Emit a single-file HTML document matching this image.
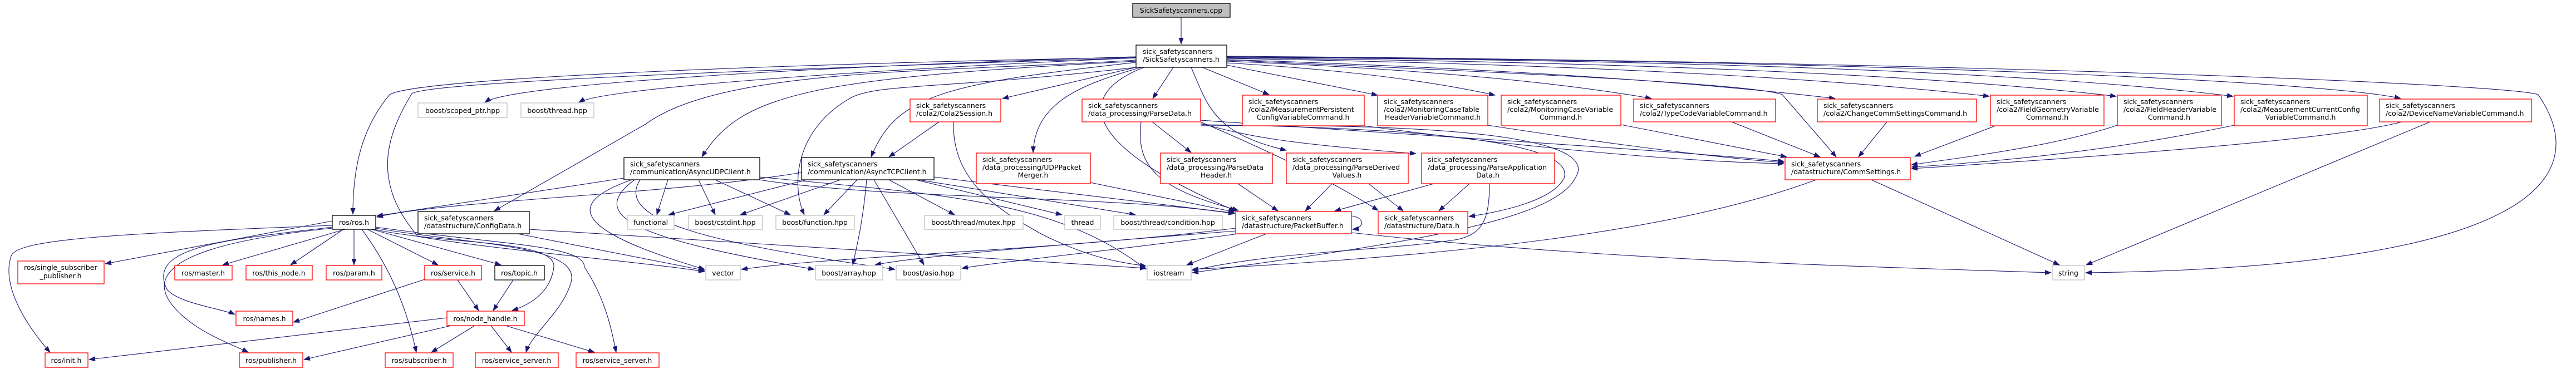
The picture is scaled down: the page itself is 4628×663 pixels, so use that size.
<!DOCTYPE html>
<html><head><meta charset="utf-8"><style>
html,body{margin:0;padding:0;background:#fff;}
svg{display:block;}
text{font-family:"DejaVu Sans","Liberation Sans",sans-serif;font-size:12.5px;fill:#000;}
.e{fill:none;stroke:#191970;stroke-width:1.1;marker-end:url(#a);}
.b{fill:#fff;stroke:#000;stroke-width:1.3;}
.r{fill:#fff;stroke:#ff0000;stroke-width:1.3;}
.g{fill:#fff;stroke:#bfbfbf;stroke-width:1.3;}
.c{text-anchor:middle;}
</style></head><body>
<svg width="4628" height="663" viewBox="0 0 4628 663" xmlns="http://www.w3.org/2000/svg">
<defs><marker id="a" markerUnits="userSpaceOnUse" markerWidth="12" markerHeight="9" refX="11" refY="4.5" orient="auto"><path d="M0,0 L12,4.5 L0,9 z" fill="#191970"/></marker></defs>

<path class="e" d="M2122,31 L2122,79"/>
<path class="e" d="M2041,103 C1400,115 750,140 700,170 C650,230 634,300 634,385"/>
<path class="e" d="M2041,104 C1200,130 770,150 740,168 C690,250 670,330 751,425 C900,450 1150,470 1266,488"/>
<path class="e" d="M2041,102 C1500,118 920,150 871,184"/>
<path class="e" d="M2041,104 C1500,128 1080,160 1040,184"/>
<path class="e" d="M2041,108 C1700,130 1300,120 1160,223 L888,379"/>
<path class="e" d="M2041,110 C1450,140 1330,170 1261,282"/>
<path class="e" d="M2041,112 C1700,150 1610,170 1565,282"/>
<path class="e" d="M2041,121 C1700,160 1580,150 1530,175 C1430,230 1420,330 1445,386"/>
<path class="e" d="M2041,121 L1801,177"/>
<path class="e" d="M2050,121 C1950,150 1860,180 1856,274"/>
<path class="e" d="M2108,121 L2071,177"/>
<path class="e" d="M2055,121 C1930,170 1940,260 2220,379"/>
<path class="e" d="M2140,121 C2170,190 2180,240 2311,270"/>
<path class="e" d="M2204,108 C2700,130 3150,150 3202,170 L3299,282"/>
<path class="e" d="M2160,121 L2280,170"/>
<path class="e" d="M2204,117 L2475,171"/>
<path class="e" d="M2204,113 Q2500,130 2686,171"/>
<path class="e" d="M2204,110 Q2700,130 2967,177"/>
<path class="e" d="M2204,107 Q2900,130 3297,177"/>
<path class="e" d="M2204,105 Q3100,120 3574,173"/>
<path class="e" d="M2204,104 Q3300,115 3802,173"/>
<path class="e" d="M2204,103 Q3500,110 4012,173"/>
<path class="e" d="M2204,102 C3500,110 4200,150 4313,177"/>
<path class="e" d="M2204,101 C3500,110 4500,150 4560,170 C4650,300 4600,480 3747,490"/>

<path class="e" d="M2157,222 C2230,240 2270,255 2544,276"/>
<path class="e" d="M2070,219 L2140,274"/>
<path class="e" d="M2050,219 C2040,300 2080,340 2225,378"/>
<path class="e" d="M2157,219 C2300,280 2400,330 2476,378"/>
<path class="e" d="M2157,216 C2500,240 3000,270 3205,290"/>
<path class="e" d="M2157,226 C2700,220 2870,260 2830,320 C2790,400 2500,440 2142,490"/>
<path class="e" d="M2157,224 C2600,230 2830,260 2810,320 C2790,360 2700,380 2639,389"/>

<path class="e" d="M1687,219 L1597,282"/>
<path class="e" d="M1713,219 C1710,330 1800,380 1870,420 C1950,460 2000,470 2059,478"/>
<path class="e" d="M1959,328 L2218,381"/>
<path class="e" d="M2224,330 L2296,379"/>
<path class="e" d="M2393,330 L2345,379"/>
<path class="e" d="M2459,330 L2521,379"/>
<path class="e" d="M2576,330 L2398,379"/>
<path class="e" d="M2640,330 L2585,379"/>
<path class="e" d="M2676,330 C2676,400 2660,420 2620,430 C2500,450 2300,450 2142,486"/>
<path class="e" d="M2428,388 C2452,390 2452,410 2430,412"/>
<path class="e" d="M2220,410 C1900,450 1500,460 1332,484"/>
<path class="e" d="M2220,415 C1900,440 1650,460 1572,476"/>
<path class="e" d="M2225,420 C2000,450 1800,470 1728,482"/>
<path class="e" d="M2275,420 L2132,476"/>
<path class="e" d="M2428,418 C2900,470 3400,480 3685,490"/>
<path class="e" d="M3263,323 C3000,420 2600,460 2142,484"/>
<path class="e" d="M3362,323 L3700,476"/>
<path class="e" d="M3111,219 L3270,282"/>
<path class="e" d="M3390,219 L3339,282"/>
<path class="e" d="M2912,224 L3210,282"/>
<path class="e" d="M2673,225 C2900,260 3100,285 3205,292"/>
<path class="e" d="M2451,226 C2700,260 3000,290 3205,294"/>
<path class="e" d="M3585,226 L3440,281"/>
<path class="e" d="M3804,225 C3700,260 3550,280 3434,296"/>
<path class="e" d="M4014,225 C3800,270 3600,290 3434,300"/>
<path class="e" d="M4315,219 C4200,250 3800,280 3434,303"/>
<path class="e" d="M4366,219 L3748,476"/>

<path class="e" d="M1440,310 C1200,350 800,360 677,390"/>
<path class="e" d="M1121,320 L677,388"/>
<path class="e" d="M1200,323 L1180,386"/>
<path class="e" d="M1255,323 L1285,386"/>
<path class="e" d="M1285,323 L1420,386"/>
<path class="e" d="M1364,323 C1600,360 2000,350 2218,384"/>
<path class="e" d="M1135,323 C1000,370 1050,420 1266,484"/>
<path class="e" d="M1140,323 C1050,390 1150,430 1463,484"/>
<path class="e" d="M1150,323 C1100,400 1300,440 1608,484"/>
<path class="e" d="M1364,318 C1700,350 1900,360 2059,484"/>
<path class="e" d="M1450,323 L1201,386"/>
<path class="e" d="M1510,323 L1330,386"/>
<path class="e" d="M1540,323 L1480,386"/>
<path class="e" d="M1597,323 L1715,386"/>
<path class="e" d="M1645,323 L1908,386"/>
<path class="e" d="M1650,323 L2040,386"/>
<path class="e" d="M1678,318 L2218,383"/>
<path class="e" d="M1557,323 C1550,400 1540,440 1532,476"/>
<path class="e" d="M1570,323 L1660,476"/>
<path class="e" d="M951,412 L2059,482"/>
<path class="e" d="M930,420 L1266,486"/>

<path class="e" d="M597,397 L189,474"/>
<path class="e" d="M597,405 C200,420 30,430 20,460 C0,520 60,600 90,633"/>
<path class="e" d="M620,412 L400,476"/>
<path class="e" d="M617,412 L522,476"/>
<path class="e" d="M636,412 L636,476"/>
<path class="e" d="M660,412 L787,476"/>
<path class="e" d="M668,412 L900,476"/>
<path class="e" d="M597,408 C420,430 260,440 300,520 C320,545 400,555 422,565"/>
<path class="e" d="M597,410 C400,430 230,470 320,560 C360,600 420,620 446,633"/>
<path class="e" d="M650,412 C700,480 730,550 748,633"/>
<path class="e" d="M672,412 C800,440 1000,430 995,480 C990,520 960,545 920,558"/>
<path class="e" d="M675,410 C850,440 1050,440 1025,510 C1010,560 955,600 945,633"/>
<path class="e" d="M675,408 C900,440 1050,440 1050,480 C1090,540 1100,600 1107,633"/>
<path class="e" d="M763,502 L527,579"/>
<path class="e" d="M822,503 L860,558"/>
<path class="e" d="M922,503 L886,558"/>
<path class="e" d="M803,571 L160,646"/>
<path class="e" d="M811,585 L546,646"/>
<path class="e" d="M853,585 L775,633"/>
<path class="e" d="M882,585 L919,633"/>
<path class="e" d="M908,585 L1068,633"/>

<rect x="2035" y="6" width="175" height="25" fill="#bfbfbf" stroke="#000" stroke-width="1.3"/>
<text class="c" x="2122" y="23">SickSafetyscanners.cpp</text>

<rect class="b" x="2041" y="81" width="163" height="40"/>
<text x="2053" y="97">sick_safetyscanners</text><text x="2053" y="111">/SickSafetyscanners.h</text>

<rect class="g" x="751" y="185" width="160" height="26"/><text class="c" x="831" y="203">boost/scoped_ptr.hpp</text>
<rect class="g" x="936" y="185" width="131" height="26"/><text class="c" x="1001" y="203">boost/thread.hpp</text>

<rect class="b" x="597" y="387" width="78" height="25"/><text class="c" x="636" y="404">ros/ros.h</text>
<rect class="b" x="751" y="380" width="200" height="40"/>
<text x="762" y="396">sick_safetyscanners</text><text x="762" y="410">/datastructure/ConfigData.h</text>

<rect class="r" x="32" y="469" width="155" height="41"/>
<text x="43" y="485">ros/single_subscriber</text><text class="c" x="109" y="500">_publisher.h</text>
<rect class="r" x="314" y="477" width="103" height="26"/><text class="c" x="365" y="495">ros/master.h</text>
<rect class="r" x="442" y="477" width="119" height="26"/><text class="c" x="501" y="495">ros/this_node.h</text>
<rect class="r" x="586" y="477" width="100" height="26"/><text class="c" x="636" y="495">ros/param.h</text>
<rect class="r" x="763" y="477" width="102" height="26"/><text class="c" x="814" y="495">ros/service.h</text>
<rect class="b" x="889" y="477" width="89" height="26"/><text class="c" x="933" y="495">ros/topic.h</text>
<rect class="r" x="424" y="559" width="102" height="26"/><text class="c" x="475" y="577">ros/names.h</text>
<rect class="r" x="803" y="559" width="139" height="26"/><text class="c" x="872" y="577">ros/node_handle.h</text>
<rect class="r" x="81" y="634" width="77" height="26"/><text class="c" x="119" y="652">ros/init.h</text>
<rect class="r" x="430" y="634" width="114" height="26"/><text class="c" x="487" y="652">ros/publisher.h</text>
<rect class="r" x="692" y="634" width="122" height="26"/><text class="c" x="753" y="652">ros/subscriber.h</text>
<rect class="r" x="854" y="634" width="149" height="26"/><text class="c" x="928" y="652">ros/service_server.h</text>
<rect class="r" x="1035" y="634" width="149" height="26"/><text class="c" x="1109" y="652">ros/service_server.h</text>

<rect class="g" x="1127" y="387" width="84" height="25"/><text class="c" x="1169" y="404">functional</text>
<rect class="b" x="1121" y="283" width="244" height="40"/>
<text x="1132" y="299">sick_safetyscanners</text><text x="1132" y="313">/communication/AsyncUDPClient.h</text>
<rect class="b" x="1440" y="283" width="238" height="40"/>
<text x="1451" y="299">sick_safetyscanners</text><text x="1451" y="313">/communication/AsyncTCPClient.h</text>

<rect class="r" x="1635" y="178" width="163" height="41"/>
<text x="1646" y="194">sick_safetyscanners</text><text x="1646" y="208">/cola2/Cola2Session.h</text>
<rect class="r" x="1944" y="178" width="213" height="41"/>
<text x="1955" y="194">sick_safetyscanners</text><text x="1955" y="208">/data_processing/ParseData.h</text>
<rect class="r" x="2232" y="171" width="219" height="55"/>
<text x="2243" y="187">sick_safetyscanners</text><text x="2243" y="201">/cola2/MeasurementPersistent</text><text class="c" x="2341" y="215">ConfigVariableCommand.h</text>

<rect class="r" x="1754" y="275" width="205" height="55"/>
<text x="1765" y="291">sick_safetyscanners</text><text x="1765" y="305">/data_processing/UDPPacket</text><text class="c" x="1856" y="319">Merger.h</text>
<rect class="r" x="2085" y="275" width="201" height="55"/>
<text x="2096" y="291">sick_safetyscanners</text><text x="2096" y="305">/data_processing/ParseData</text><text class="c" x="2185" y="319">Header.h</text>

<rect class="g" x="1237" y="387" width="133" height="25"/><text class="c" x="1303" y="404">boost/cstdint.hpp</text>
<rect class="g" x="1394" y="387" width="141" height="25"/><text class="c" x="1464" y="404">boost/function.hpp</text>
<rect class="g" x="1661" y="387" width="177" height="25"/><text class="c" x="1749" y="404">boost/thread/mutex.hpp</text>
<rect class="g" x="1913" y="387" width="64" height="25"/><text class="c" x="1945" y="404">thread</text>
<rect class="g" x="2001" y="387" width="195" height="25"/><text class="c" x="2098" y="404">boost/thread/condition.hpp</text>

<rect class="r" x="2220" y="380" width="208" height="40"/>
<text x="2231" y="396">sick_safetyscanners</text><text x="2231" y="410">/datastructure/PacketBuffer.h</text>

<rect class="g" x="1268" y="477" width="62" height="26"/><text class="c" x="1299" y="495">vector</text>
<rect class="g" x="1465" y="477" width="121" height="26"/><text class="c" x="1525" y="495">boost/array.hpp</text>
<rect class="g" x="1610" y="477" width="116" height="26"/><text class="c" x="1668" y="495">boost/asio.hpp</text>
<rect class="g" x="2061" y="477" width="79" height="26"/><text class="c" x="2100" y="495">iostream</text>

<rect class="r" x="2475" y="171" width="198" height="55"/>
<text x="2486" y="187">sick_safetyscanners</text><text x="2486" y="201">/cola2/MonitoringCaseTable</text><text class="c" x="2574" y="215">HeaderVariableCommand.h</text>
<rect class="r" x="2697" y="171" width="215" height="55"/>
<text x="2708" y="187">sick_safetyscanners</text><text x="2708" y="201">/cola2/MonitoringCaseVariable</text><text class="c" x="2804" y="215">Command.h</text>
<rect class="r" x="2935" y="178" width="255" height="41"/>
<text x="2946" y="194">sick_safetyscanners</text><text x="2946" y="208">/cola2/TypeCodeVariableCommand.h</text>
<rect class="r" x="3265" y="178" width="286" height="41"/>
<text x="3276" y="194">sick_safetyscanners</text><text x="3276" y="208">/cola2/ChangeCommSettingsCommand.h</text>

<rect class="r" x="2311" y="275" width="219" height="55"/>
<text x="2322" y="291">sick_safetyscanners</text><text x="2322" y="305">/data_processing/ParseDerived</text><text class="c" x="2420" y="319">Values.h</text>
<rect class="r" x="2554" y="275" width="239" height="55"/>
<text x="2565" y="291">sick_safetyscanners</text><text x="2565" y="305">/data_processing/ParseApplication</text><text class="c" x="2673" y="319">Data.h</text>

<rect class="r" x="2476" y="380" width="161" height="40"/>
<text x="2487" y="396">sick_safetyscanners</text><text x="2487" y="410">/datastructure/Data.h</text>
<rect class="r" x="3207" y="283" width="225" height="40"/>
<text x="3218" y="299">sick_safetyscanners</text><text x="3218" y="313">/datastructure/CommSettings.h</text>

<rect class="r" x="3576" y="171" width="204" height="55"/>
<text x="3587" y="187">sick_safetyscanners</text><text x="3587" y="201">/cola2/FieldGeometryVariable</text><text class="c" x="3678" y="215">Command.h</text>
<rect class="r" x="3804" y="171" width="187" height="55"/>
<text x="3815" y="187">sick_safetyscanners</text><text x="3815" y="201">/cola2/FieldHeaderVariable</text><text class="c" x="3897" y="215">Command.h</text>
<rect class="r" x="4014" y="171" width="239" height="55"/>
<text x="4025" y="187">sick_safetyscanners</text><text x="4025" y="201">/cola2/MeasurementCurrentConfig</text><text class="c" x="4133" y="215">VariableCommand.h</text>
<rect class="r" x="4275" y="178" width="273" height="41"/>
<text x="4286" y="194">sick_safetyscanners</text><text x="4286" y="208">/cola2/DeviceNameVariableCommand.h</text>

<rect class="g" x="3687" y="477" width="58" height="26"/><text class="c" x="3716" y="495">string</text>
</svg>
</body></html>
